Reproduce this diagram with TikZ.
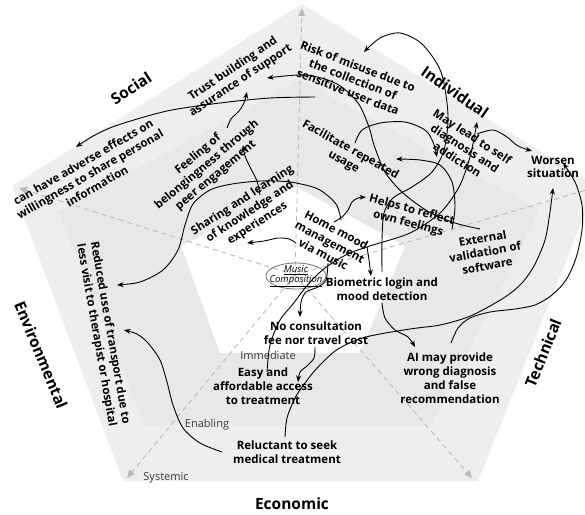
\documentclass[tikz,border=0pt]{standalone}
\usepackage{fontspec}
\setmainfont{Open Sans}
\usetikzlibrary{arrows.meta,calc}
\definecolor{outerc}{RGB}{238,238,238}
\definecolor{midc}{RGB}{232,232,232}
\definecolor{axisc}{RGB}{185,185,185}
\begin{document}
\begin{tikzpicture}[x=1pt,y=-1pt,
  lbl/.style={font=\bfseries\fontsize{11.5}{13.8}\selectfont, align=center, inner sep=1pt, text=black},
  catlbl/.style={font=\bfseries\fontsize{15.5}{18}\selectfont, inner sep=1pt},
  lvl/.style={font=\fontsize{11}{13}\selectfont, text=black!78, inner sep=1pt},
  conn/.style={draw=black, line width=0.9pt, -{Stealth[length=6.5pt,width=5pt]}},
  axisln/.style={draw=axisc, dash pattern=on 5pt off 4pt, line width=0.9pt, -{Triangle[length=8pt,width=7pt]}},
]
\useasboundingbox (0,0) rectangle (585,514);
\clip (0,0) rectangle (585,514);
\fill[white] (0,0) rectangle (585,514);

% background pentagons
\fill[outerc] (302,4) -- (596,186) -- (478,481) -- (123,481) -- (12,186) -- cycle;
\fill[midc] (300,80) -- (540,210) -- (432,425) -- (145,425) -- (58,212) -- cycle;
\fill[white] (296,187) -- (405,246) -- (360,353) -- (220,353) -- (181,246) -- cycle;

% axes
\coordinate (C) at (295,275);
\coordinate (vT) at (302,8);
\coordinate (vL) at (19,188);
\coordinate (vR) at (600,186);
\coordinate (vBL) at (127,478);
\coordinate (vBR) at (472,478);
\foreach \v in {vT,vL,vR,vBL,vBR} \draw[axisln] (C) -- (\v);

% category labels
\node[catlbl, rotate=33] (social) at (131,88) {Social};
\node[catlbl, rotate=-35] (individual) at (455,92) {Individual};
\node[catlbl, rotate=68] (technical) at (543,353) {Technical};
\node[catlbl] (economic) at (292,504) {Economic};
\node[catlbl, rotate=-67.5] (environmental) at (41,355) {Environmental};

% level labels
\node[lvl] (immediate) at (268,355) {Immediate};
\node[lvl] (enabling) at (207,425) {Enabling};
\node[lvl] (systemic) at (166,478) {Systemic};

% music composition
\draw[black!55, line width=0.8pt] (296,276) ellipse [x radius=30, y radius=13];
\node[font=\itshape\fontsize{9.5}{11}\selectfont, align=center, inner sep=0pt] (music) at (296,276) {\underline{Music}\\[-1pt]\underline{Composition}};

% statement nodes
\node[lbl, rotate=34] (trust) at (237,75) {Trust building and\\assurance of support};
\node[lbl, rotate=-21] (risk) at (353,79) {Risk of misuse due to\\the collection of\\sensitive user data};
\node[lbl, rotate=-33] (may) at (465,148) {May lead to self\\diagnosis and\\addiction};
\node[lbl] (worsen) at (553,167) {Worsen\\situation};
\node[lbl, rotate=-29] (facil) at (347,156) {Facilitate repeated\\usage};
\node[lbl, rotate=-15] (helps) at (410,217) {Helps to reflect\\own feelings};
\node[lbl, rotate=10] (ext) at (485,252) {External\\validation of\\software};
\node[lbl] (bio) at (382,289) {Biometric login and\\mood detection};
\node[lbl, rotate=-28] (home) at (330,242) {Home mood\\management\\via music};
\node[lbl, rotate=33] (share) at (250,212) {Sharing and learning\\of knowledge and\\experiences};
\node[lbl, rotate=40] (feel) at (207,165) {Feeling of\\belongingness through\\peer engagement};
\node[lbl, rotate=30] (adverse) at (90,174) {can have adverse effects on\\willingness to share personal\\information};
\node[lbl, rotate=-80] (reduced) at (103,334) {Reduced use of transport due to\\less visit to therapist or hospital};
\node[lbl] (nocons) at (316,333) {No consultation\\fee nor travel cost};
\node[lbl] (easy) at (263,386) {Easy and\\affordable access\\to treatment};
\node[lbl] (reluct) at (287,452) {Reluctant to seek\\medical treatment};
\node[lbl] (ai) at (450,378) {AI may provide\\wrong diagnosis\\and false\\recommendation};

% connectors
\draw[conn] plot[smooth] coordinates {([shift={(11,-22)}]home.center) (336,204) (318,189) (290,182) (261,181) (232,184) (210,190) (193,204) (185,225) (178,250) (163,270) (140,282) ([shift={(14,-49)}]reduced.center)};
\draw[conn] plot[smooth] coordinates {([shift={(4,-20)}]home.center) (342,217) (348,210) (352,202) (358,198) ([shift={(-44,-20)}]helps.center)};
\draw[conn] plot[smooth] coordinates {([shift={(-34,1)}]home.center) (289,239) (278,238) (264,241) ([shift={(-3,31)}]share.center)};
\draw[conn] plot[smooth] coordinates {([shift={(37,5)}]home.center) (369,260) ([shift={(-11,-13)}]bio.center)};
\draw[conn] plot[smooth] coordinates {([shift={(-2,21)}]home.center) (326,280) (318,287) (306,292) (301,302) ([shift={(-16,-16)}]nocons.center)};
\draw[conn] plot[smooth] coordinates {([shift={(4,-14)}]easy.center) (270,345) (280,320) (293,304) (305,288) (318,274) (332,263) (350,253) (373,245) (410,233) (440,213) (459,187) (470,157) ([shift={(12,-26)}]may.center)};
\draw[conn] plot[smooth] coordinates {([shift={(0,-17)}]bio.center) (382,240) (384,213) (393,198) (412,187) (432,172) (444,150) (448,115) (441,72) (422,44) (400,33) (380,38) ([shift={(11,-27)}]risk.center)};
\draw[conn] plot[smooth] coordinates {([shift={(0,14)}]bio.center) (385,318) (395,330) (408,337) ([shift={(-35,-31)}]ai.center)};
\draw[conn] plot[smooth] coordinates {([shift={(-5,-23)}]ext.center) (455,223) (429,212) (403,193) (385,172) (374,145) (369,127) (358,103) (337,84) (306,75) ([shift={(30,3)}]trust.center)};
\draw[conn] plot[smooth] coordinates {([shift={(-33,-23)}]ext.center) (455,207) (452,182) (440,165) (420,160) ([shift={(49,3)}]facil.center)};
\draw[conn] plot[smooth] coordinates {([shift={(8,-13)}]facil.center) (362,130) (380,123) (405,122) (425,130) (433,142) ([shift={(-28,9)}]may.center)};
\draw[conn] plot[smooth] coordinates {([shift={(12,-14)}]may.center) (493,130) (507,137) (518,146) ([shift={(-21,-16)}]worsen.center)};
\draw[conn] plot[smooth] coordinates {([shift={(-38,18)}]risk.center) (270,98) (220,103) (167,111) (118,125) (95,135) ([shift={(-14,-27)}]adverse.center)};
\draw[conn] plot[smooth] coordinates {([shift={(20,-37)}]feel.center) (231,119) (239,111) (244,103) ([shift={(10,17)}]trust.center)};
\draw[conn] plot[smooth] coordinates {([shift={(10,-17)}]share.center) (257,181) (249,165) (245,156) ([shift={(36,-20)}]feel.center)};
\draw[conn] plot[smooth] coordinates {([shift={(-2,-15)}]reluct.center) (287,418) (295,398) (305,383) (318,367) (338,349) (366,337) (410,329) (440,325) (468,317) (490,306) (508,295) (522,283) (534,266) (545,240) (550,212) ([shift={(0,21)}]worsen.center)};
\draw[conn] plot[smooth] coordinates {([shift={(1,-35)}]ai.center) (458,328) (470,318) (490,312) (515,309) (535,305) (552,295) (566,280) (576,258) (582,230) (582,205) (575,182) ([shift={(10,-4)}]worsen.center)};
\draw[conn] plot[smooth] coordinates {([shift={(-1,14)}]nocons.center) (314,358) (307,366) (300,372) ([shift={(35,-4)}]easy.center)};
\draw[conn] plot[smooth] coordinates {([shift={(-65,0)}]reluct.center) (200,443) (183,428) (173,405) (167,382) (160,360) (148,343) (137,334) ([shift={(21,-4)}]reduced.center)};
\end{tikzpicture}
\end{document}
